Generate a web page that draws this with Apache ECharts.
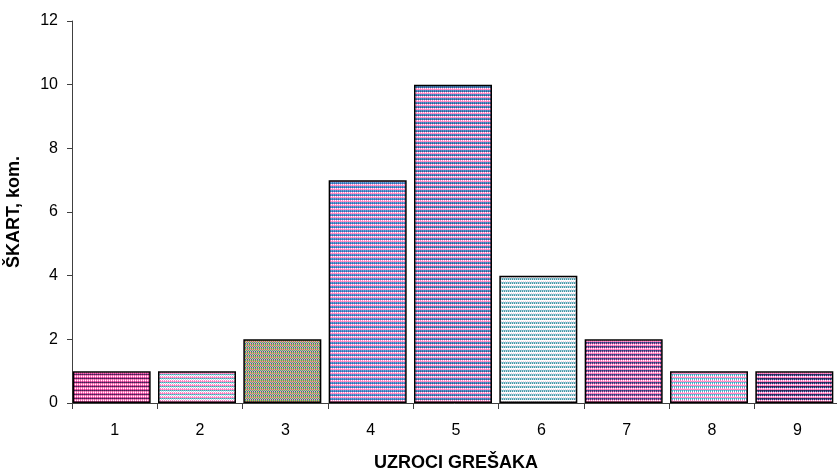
<!DOCTYPE html>
<html><head><meta charset="utf-8">
<script src="https://cdn.jsdelivr.net/npm/echarts@6/dist/echarts.min.js"></script>
<style>html,body{margin:0;padding:0;background:#fff}#c{width:837px;height:471px}</style>
</head><body><div id="c"></div>
<script>
const categories = ['1','2','3','4','5','6','7','8','9'];
const values = [1, 1, 2, 7, 10, 4, 2, 1, 1];
const yTicks = [0, 2, 4, 6, 8, 10, 12];

// pattern rows (colour pairs) per bar, for a small repeating tile
const patterns = [
  [['#ff66b3','#ffffff'],['#c04090','#ff66b3'],['#402050','#6a3070'],['#e060a0','#ff99cc']],
  [['#ff80c0','#ffffff'],['#ff80c0','#ff99cc'],['#40a0b0','#80c8d0'],['#ffffff','#b0e0e8']],
  [['#e0c040','#40a0a0'],['#ff80c0','#a0a040'],['#40a0b0','#e0c060'],['#ff99cc','#308080']],
  [['#ff80c0','#ffffff'],['#ff80c0','#ff99cc'],['#4080c0','#70a8d8'],['#3070b0','#5090d0']],
  [['#ff80c0','#ffffff'],['#ff80c0','#ff99cc'],['#3878b8','#6098c8'],['#306090','#5088c0']],
  [['#ffffff','#ffffff'],['#ffffff','#e8d0e0'],['#60a8b8','#a0d0d8'],['#4890a0','#c0e0e8']],
  [['#ff80c0','#ffffff'],['#ff66b3','#ff99cc'],['#303870','#5060a0'],['#404080','#e070b0']],
  [['#ff80c0','#ffffff'],['#ff99cc','#ff80c0'],['#40a8c0','#80d0e0'],['#50b0c8','#ffffff']],
  [['#ff80c0','#ffffff'],['#ff66b3','#ff99cc'],['#202850','#303870'],['#283060','#8080c0']]
];
function makeTile(rows){
  const cv = document.createElement('canvas');
  cv.width = 4; cv.height = 4;
  const ctx = cv.getContext('2d');
  for (let r = 0; r < 4; r++) {
    for (let c = 0; c < 4; c++) {
      ctx.fillStyle = rows[r][c % 2];
      ctx.fillRect(c, r, 1, 1);
    }
  }
  return cv;
}

const chart = echarts.init(document.getElementById('c'), null, {renderer:'canvas'});
const font = 'Liberation Sans, Arial, sans-serif';
chart.setOption({
  animation: false,
  grid: {left: 72, right: -3, top: 21, bottom: 68, containLabel: false, outerBoundsMode: 'none'},
  xAxis: {
    type: 'category', data: categories,
    name: 'UZROCI GREŠAKA', nameLocation: 'middle', nameGap: 51,
    nameTextStyle: {fontFamily: font, fontSize: 18, fontWeight: 'bold', color: '#000'},
    axisLine: {lineStyle: {color: '#404040', width: 1}},
    axisTick: {show: true, alignWithLabel: false, length: 6, lineStyle: {color: '#404040'}},
    axisLabel: {fontFamily: font, fontSize: 16, color: '#000', margin: 20}
  },
  yAxis: {
    type: 'value', min: 0, max: 12, interval: 2,
    name: 'ŠKART, kom.', nameLocation: 'middle', nameGap: 49,
    nameTextStyle: {fontFamily: font, fontSize: 18, fontWeight: 'bold', color: '#000'},
    axisLine: {show: true, lineStyle: {color: '#404040', width: 1}},
    axisTick: {show: true, length: 5, lineStyle: {color: '#404040'}},
    splitLine: {show: false},
    axisLabel: {fontFamily: font, fontSize: 16, color: '#000', margin: 14}
  },
  series: [{
    type: 'bar',
    barWidth: 78,
    barGap: 0,
    data: values.map((v, i) => ({
      value: v,
      itemStyle: {
        color: {image: makeTile(patterns[i]), repeat: 'repeat'},
        borderColor: '#000', borderWidth: 1.5
      }
    }))
  }, {
    type: 'bar',
    barWidth: 6,
    silent: true,
    data: values.map(() => '-')
  }]
});
</script></body></html>
